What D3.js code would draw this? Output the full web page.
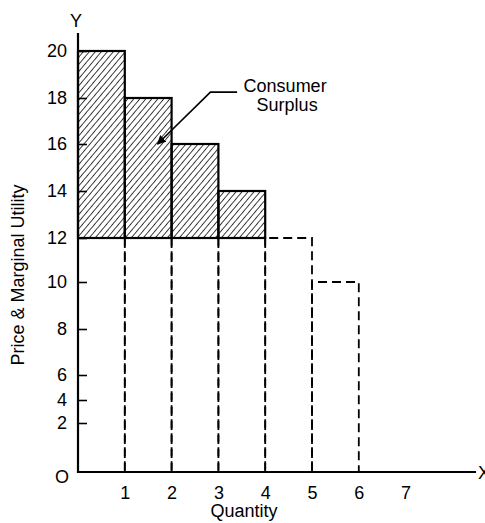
<!DOCTYPE html>
<html>
<head>
<meta charset="utf-8">
<script src="https://cdn.jsdelivr.net/npm/d3@7"></script>
<style>
body { margin: 0; background: #fff; }
svg { display: block; }
text { font-family: "Liberation Sans", Arial, sans-serif; fill: #000; }
</style>
</head>
<body>
<svg></svg>
<script>
//Consumer surplus chart

let svgWidth = 485;
let svgHeight = 523;

let quantities = [1, 2, 3, 4, 5, 6];
let utilities = [20, 18, 16, 14, 12, 10];
let price = 12;
let yTicks = [2, 4, 6, 8, 10, 12, 14, 16, 18, 20];
let xTicks = [1, 2, 3, 4, 5, 6, 7];
let leader = [[3.4, 18.25], [2.83, 18.25], [1.7, 16]];

let svg = d3.select('svg')
	.attr("width", svgWidth)
	.attr("height", svgHeight);

let x = d3.scaleLinear()
	.domain([0, 7])
	.range([78, 405.6]);

// the printed axis is not evenly spaced, so a piecewise scale
let y = d3.scaleLinear()
	.domain([0, 2, 4, 6, 8, 10, 12, 14, 16, 18, 20])
	.range([472, 423, 400, 375, 329, 282, 238, 191, 144, 98, 51]);

let bars = quantities.map(function (q, i) {
	return { q: q, u: utilities[i] };
});

// hatch pattern
let defs = svg.append("defs");
defs.append("pattern")
	.attr("id", "hatch")
	.attr("patternUnits", "userSpaceOnUse")
	.attr("width", 4.6)
	.attr("height", 4.6)
	.attr("patternTransform", "rotate(40)")
	.append("line")
	.attr("x1", 0).attr("y1", 0)
	.attr("x2", 0).attr("y2", 4.6)
	.attr("stroke", "#000")
	.attr("stroke-width", 1.5);

defs.append("marker")
	.attr("id", "arrow")
	.attr("viewBox", "0 0 10 10")
	.attr("refX", 9).attr("refY", 5)
	.attr("markerWidth", 9).attr("markerHeight", 9)
	.attr("markerUnits", "userSpaceOnUse")
	.attr("orient", "auto")
	.append("path")
	.attr("d", "M0,0 L10,5 L0,10 Z")
	.attr("fill", "#000");

// dashed outlines below price
svg.selectAll("path.dash")
	.data(bars)
	.enter()
	.append("path")
	.attr("class", "dash")
	.attr("d", function (d) {
		let top = y(Math.min(d.u, price));
		return "M" + x(d.q - 1) + "," + y(0) + "V" + top + "H" + x(d.q) + "V" + y(0);
	})
	.attr("fill", "none")
	.attr("stroke", "#000")
	.attr("stroke-width", 1.8)
	.attr("stroke-dasharray", "9,5");

// hatched surplus
svg.selectAll("rect.surplus")
	.data(bars.filter(function (d) { return d.u > price; }))
	.enter()
	.append("rect")
	.attr("class", "surplus")
	.attr("x", function (d) { return x(d.q - 1); })
	.attr("y", function (d) { return y(d.u); })
	.attr("width", function (d) { return x(d.q) - x(d.q - 1); })
	.attr("height", function (d) { return y(price) - y(d.u); })
	.attr("fill", "url(#hatch)")
	.attr("stroke", "#000")
	.attr("stroke-width", 2.2);

// axes
let yAxis = d3.axisLeft(y)
	.tickValues(yTicks)
	.tickFormat(d3.format("d"))
	.tickSize(-9)
	.tickPadding(11);

let gy = svg.append("g")
	.attr("transform", "translate(" + x(0) + ",0)")
	.call(yAxis);
gy.select(".domain").remove();
gy.selectAll("line").attr("stroke-width", 1.6);
gy.selectAll("text").style("font-size", "18px").attr("font-family", null);

let xAxis = d3.axisBottom(x)
	.tickValues(xTicks)
	.tickFormat(d3.format("d"))
	.tickSize(0)
	.tickPadding(14);

let gx = svg.append("g")
	.attr("transform", "translate(0," + y(0) + ")")
	.call(xAxis);
gx.select(".domain").remove();
gx.selectAll("text").style("font-size", "18px").attr("font-family", null);

svg.append("line")
	.attr("x1", x(0)).attr("x2", x(0))
	.attr("y1", y(0) + 1).attr("y2", 33)
	.attr("stroke", "#000").attr("stroke-width", 2.2);

svg.append("line")
	.attr("x1", x(0) - 1).attr("x2", 476)
	.attr("y1", y(0)).attr("y2", y(0))
	.attr("stroke", "#000").attr("stroke-width", 2.2);

// axis letters
svg.append("text").text("Y")
	.attr("x", x(0) - 2).attr("y", 27)
	.attr("text-anchor", "middle")
	.style("font-size", "18px");

svg.append("text").text("X")
	.attr("x", 478).attr("y", y(0) + 7)
	.style("font-size", "18px");

svg.append("text").text("O")
	.attr("x", 62).attr("y", y(0) + 11)
	.attr("text-anchor", "middle")
	.style("font-size", "18px");

svg.append("text").text("Quantity")
	.attr("x", 244).attr("y", 517)
	.attr("text-anchor", "middle")
	.style("font-size", "18px");

svg.append("text").text("Price & Marginal Utility")
	.attr("transform", "translate(24,275) rotate(-90)")
	.attr("text-anchor", "middle")
	.style("font-size", "18px");

// leader + label
svg.append("path")
	.attr("d", d3.line()
		.x(function (d) { return x(d[0]); })
		.y(function (d) { return y(d[1]); })(leader))
	.attr("fill", "none")
	.attr("stroke", "#000")
	.attr("stroke-width", 1.6)
	.attr("marker-end", "url(#arrow)");

let lx = x(leader[0][0]) + 48;
let ly = y(leader[0][1]);

svg.append("text").text("Consumer")
	.attr("x", lx).attr("y", ly)
	.attr("text-anchor", "middle")
	.style("font-size", "18px");

svg.append("text").text("Surplus")
	.attr("x", lx + 2).attr("y", ly + 19)
	.attr("text-anchor", "middle")
	.style("font-size", "18px");
</script>
</body>
</html>
